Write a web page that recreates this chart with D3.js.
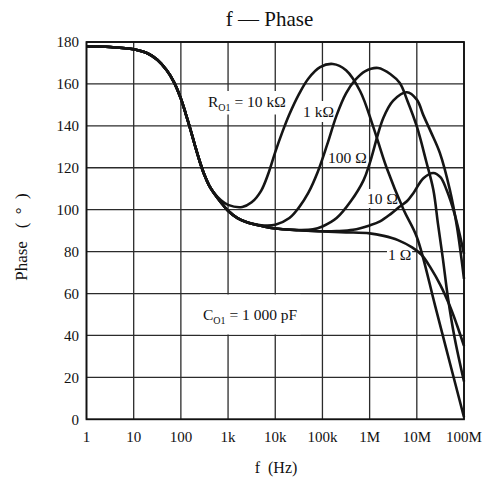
<!DOCTYPE html>
<html>
<head>
<meta charset="utf-8">
<script src="https://cdn.jsdelivr.net/npm/d3@7/dist/d3.min.js"></script>
<style>
  html, body { margin: 0; padding: 0; background: #fff; }
  svg { display: block; font-family: "Liberation Serif", "Times New Roman", serif; }
</style>
</head>
<body>
<svg id="chart" width="488" height="481"></svg>
<script>
// Frequency decades (10^n Hz) and their tick labels
const decadeExps = [0, 1, 2, 3, 4, 5, 6, 7, 8];
const xTickLabels = ["1", "10", "100", "1k", "10k", "100k", "1M", "10M", "100M"];
const yTicks = [0, 20, 40, 60, 80, 100, 120, 140, 160, 180];

// Low-frequency roll-off shared by every curve (exponent of f, phase in degrees)
const commonExp   = [0, 0.5, 1.0, 1.3, 1.5, 1.7, 1.85, 2.0, 2.1, 2.2, 2.3, 2.4, 2.5, 2.6, 2.7];
const commonPhase = [178, 177.6, 176.5, 174.5, 171.5, 166.5, 161, 153, 146, 138.5, 130.5, 123, 116.5, 111.5, 108];

// R_O1 = 10 kΩ
const exp10k   = [2.85, 3.0, 3.3, 3.5, 3.7, 3.85, 4.0, 4.15, 4.3, 4.5, 4.7, 4.95, 5.22, 5.5, 5.8, 6.07, 6.36, 6.72, 7.0, 7.39, 7.7, 8.0];
const phase10k = [104.5, 102.3, 101.3, 103.5, 109, 117, 127.5, 137, 145.5, 155, 162.5, 168, 169.5, 166.5, 156.5, 140, 120, 100, 87, 54, 27, 1];

// R_O1 = 1 kΩ
const exp1k   = [2.85, 3.0, 3.2, 3.4, 3.7, 4.0, 4.3, 4.5, 4.7, 4.9, 5.1, 5.3, 5.5, 5.7, 5.9, 6.18, 6.45, 6.64, 6.8, 7.0, 7.2, 7.35, 7.45, 7.55, 7.66, 7.8, 8.0];
const phase1k = [103.5, 99.5, 96, 94, 92.6, 92.8, 96, 101, 108, 118, 131, 145, 155.5, 162, 166, 167.6, 164.5, 160.4, 152, 139.7, 123, 109.5, 93, 77, 58, 39, 18];

// R_O1 = 100 Ω
const exp100   = [2.85, 3.0, 3.2, 3.4, 3.7, 4.0, 4.5, 4.8, 5.0, 5.3, 5.6, 5.87, 6.0, 6.29, 6.5, 6.79, 7.0, 7.14, 7.3, 7.49, 7.7, 7.85, 8.0];
const phase100 = [103.5, 99.5, 96, 94, 92.3, 91, 90.3, 90.6, 92, 96, 104, 114, 122, 143.7, 152, 156, 152.5, 145, 137, 127, 109.5, 92, 67];

// R_O1 = 10 Ω
const exp10   = [2.85, 3.0, 3.2, 3.4, 3.7, 4.0, 4.5, 5.0, 5.3, 5.65, 6.0, 6.22, 6.45, 6.64, 6.79, 6.93, 7.14, 7.35, 7.5, 7.63, 7.8, 8.0];
const phase10 = [103.5, 99.5, 96, 94, 92.3, 91, 90.2, 89.7, 89.8, 90.4, 92.5, 94.4, 98, 101.5, 104, 108, 115, 117.5, 115.5, 109.5, 98, 79];

// R_O1 = 1 Ω
const exp1   = [2.85, 3.0, 3.2, 3.4, 3.7, 4.0, 4.5, 5.0, 5.5, 6.0, 6.3, 6.6, 6.9, 7.1, 7.3, 7.5, 7.7, 7.85, 8.0];
const phase1 = [103.5, 99.5, 96, 94, 92.3, 91, 90.2, 89.6, 89.2, 88.7, 87.5, 85.5, 82, 78.5, 72, 64, 54, 45, 35];

const seriesExp   = [exp10k, exp1k, exp100, exp10, exp1];
const seriesPhase = [phase10k, phase1k, phase100, phase10, phase1];

const svg = d3.select("#chart");
const plotL = 86.5, plotR = 464, plotT = 42, plotB = 419.3;

const x = d3.scaleLog().domain([1, 1e8]).range([plotL, plotR]);
const y = d3.scaleLinear().domain([0, 180]).range([plotB, plotT]);

// Grid
const grid = svg.append("g").attr("stroke", "#2b2b2b").attr("stroke-width", 1.3);
grid.selectAll("line.v").data(decadeExps).join("line").attr("class", "v")
  .attr("x1", d => x(Math.pow(10, d))).attr("x2", d => x(Math.pow(10, d)))
  .attr("y1", plotT).attr("y2", plotB);
grid.selectAll("line.h").data(yTicks).join("line").attr("class", "h")
  .attr("x1", plotL).attr("x2", plotR)
  .attr("y1", d => y(d)).attr("y2", d => y(d));

// Label plates (white backing that breaks the grid under annotations)
const plates = svg.append("g");
const curvesG = svg.append("g");
const labelsG = svg.append("g").attr("fill", "#111");

// Frame
svg.append("rect").attr("x", plotL).attr("y", plotT)
  .attr("width", plotR - plotL).attr("height", plotB - plotT)
  .attr("fill", "none").attr("stroke", "#111").attr("stroke-width", 1.8);

// Curves
const line = d3.line()
  .x(d => x(Math.pow(10, d[0])))
  .y(d => y(d[1]))
  .curve(d3.curveCatmullRom.alpha(0.5));

seriesExp.forEach((ex, i) => {
  const pts = commonExp.map((e, j) => [e, commonPhase[j]])
    .concat(ex.map((e, j) => [e, seriesPhase[i][j]]));
  curvesG.append("path")
    .attr("d", line(pts))
    .attr("fill", "none")
    .attr("stroke", "#151515")
    .attr("stroke-width", 2.6)
    .attr("stroke-linejoin", "round");
});

// Annotations
function annotate(xPos, yPos, parts, pad, plateRange) {
  const t = labelsG.append("text").attr("x", xPos).attr("y", yPos).attr("font-size", 15.5);
  parts.forEach(p => {
    const ts = t.append("tspan").text(p.t);
    if (p.sub) ts.attr("font-size", 10).attr("dy", 3.5);
    if (p.up) ts.attr("dy", -3.5);
  });
  const bb = t.node().getBBox();
  const y0 = plateRange ? plateRange[0] : bb.y - pad;
  const y1 = plateRange ? plateRange[1] : bb.y + bb.height + pad;
  plates.append("rect")
    .attr("x", bb.x - pad).attr("y", y0)
    .attr("width", bb.width + 2 * pad).attr("height", y1 - y0)
    .attr("fill", "#fff");
}

annotate(208, 107, [{t: "R"}, {t: "O1", sub: true}, {t: " = 10 kΩ", up: true}], 2);
annotate(303, 117, [{t: "1 kΩ"}], 2);
annotate(328, 163, [{t: "100 Ω"}], 1);
annotate(367, 204, [{t: "10 Ω"}], 1);
annotate(388, 260, [{t: "1 Ω"}], 1);
annotate(203, 320, [{t: "C"}, {t: "O1", sub: true}, {t: " = 1 000 pF", up: true}], 3, [y(60) + 1, y(40) - 1]);

// Axis tick labels
svg.append("g").selectAll("text").data(yTicks).join("text")
  .attr("x", 79).attr("y", d => y(d)).attr("dy", "0.35em")
  .attr("text-anchor", "end").attr("font-size", 15).attr("fill", "#111")
  .text(d => d);

svg.append("g").selectAll("text").data(decadeExps).join("text")
  .attr("x", d => x(Math.pow(10, d))).attr("y", 442)
  .attr("text-anchor", "middle").attr("font-size", 15).attr("fill", "#111")
  .text((d, i) => xTickLabels[i]);

// Titles
svg.append("text").attr("x", 269.5).attr("y", 26).attr("text-anchor", "middle")
  .attr("font-size", 21).attr("fill", "#111").text("f — Phase");

svg.append("text").attr("x", 276).attr("y", 473).attr("text-anchor", "middle")
  .attr("font-size", 16).attr("fill", "#111")
  .style("white-space", "pre").text("f  (Hz)");

svg.append("text").attr("transform", "translate(27,237) rotate(-90)")
  .attr("text-anchor", "middle").attr("font-size", 17).attr("fill", "#111")
  .style("white-space", "pre").text("Phase   (  °  )");
</script>
</body>
</html>
